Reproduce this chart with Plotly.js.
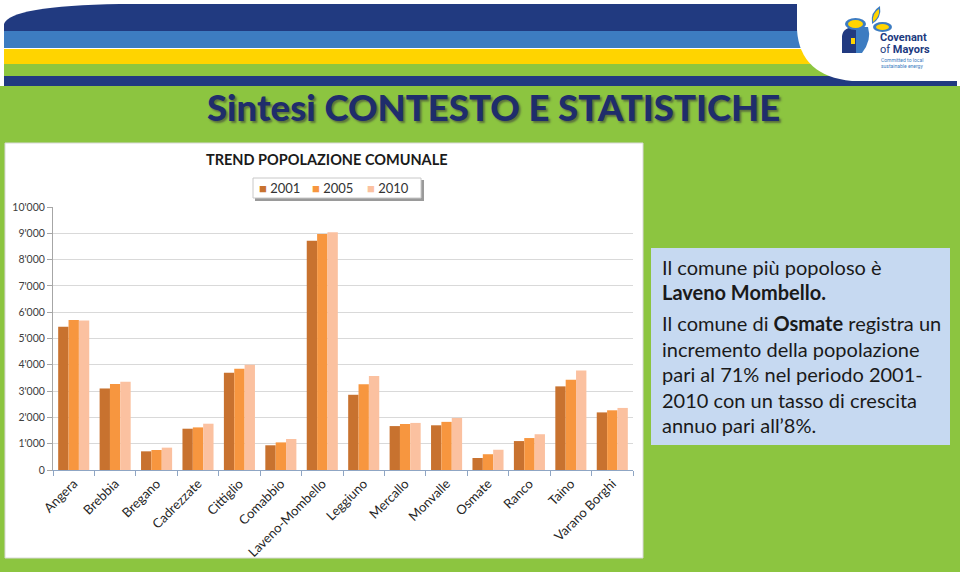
<!DOCTYPE html>
<html><head><meta charset="utf-8">
<script src="https://cdn.plot.ly/plotly-3.0.1.min.js"></script>
<style>html,body{margin:0;padding:0;background:#8CC540;}#chart{width:960px;height:572px;}</style>
</head><body><div id="chart"></div>
<script>
const comuni = ["Angera","Brebbia","Bregano","Cadrezzate","Cittiglio","Comabbio","Laveno-Mombello","Leggiuno","Mercallo","Monvalle","Osmate","Ranco","Taino","Varano Borghi"];
const pop2001 = [5450,3100,710,1570,3700,940,8720,2860,1670,1700,456,1100,3180,2190];
const pop2005 = [5700,3270,760,1620,3850,1050,8970,3260,1750,1830,600,1215,3430,2270];
const pop2010 = [5680,3360,850,1760,4000,1180,9040,3570,1790,1980,770,1360,3780,2360];
const seriesNames = ["2001","2005","2010"];
const chartTitle = "TREND POPOLAZIONE COMUNALE";
const slideTitle = "Sintesi CONTESTO E STATISTICHE";
const boxLines = [
  {t:"Il comune più popoloso è", y:267},
  {t:"<b>Laveno Mombello.</b>", y:292},
  {t:"Il comune di <b>Osmate</b> registra un", y:323},
  {t:"incremento della popolazione", y:349},
  {t:"pari al 71% nel periodo 2001-", y:374},
  {t:"2010 con un tasso di crescita", y:400},
  {t:"annuo pari all’8%.", y:425}
];

const L=53,R=633,T=207,B=470;
const X=p=>(p-L)/(R-L), Y=p=>(B-p)/(B-T);
function rect(x0,y0,x1,y1,fill,line){return {type:'rect',xref:'paper',yref:'paper',x0:X(x0),x1:X(x1),y0:Y(y0),y1:Y(y1),fillcolor:fill,line:line||{width:0},layer:'below'};}
function path(pts,fill){let d='';pts.forEach((p,i)=>{if(p[0]==='Q'){d+=' Q '+X(p[1])+','+Y(p[2])+' '+X(p[3])+','+Y(p[4]);}else{d+=(i?' L ':'M ')+X(p[0])+','+Y(p[1]);}});d+=' Z';return {type:'path',xref:'paper',yref:'paper',path:d,fillcolor:fill,line:{width:0},layer:'below'};}
function circ(x0,y0,x1,y1,fill){return {type:'circle',xref:'paper',yref:'paper',x0:X(x0),x1:X(x1),y0:Y(y0),y1:Y(y1),fillcolor:fill,line:{width:0},layer:'below'};}

const navy='#213A80', lblue='#3D7CC1', yellow='#FFD400', green='#8DC63F';
const shapes=[
  rect(0,0,960,86,'#FFFFFF'),
  path([[4,31],[4,24],['Q',10,6,120,4],[957,4],[957,31]],navy),
  rect(4,31,957,48,lblue),
  rect(4,49,957,64,yellow),
  rect(4,64,957,76,green),
  rect(4,76,957,86,navy),
  path([[797,0],[797,30],['Q',800,76,852,81],[957,81],[957,0]],'#FFFFFF'),
  // logo icon
  path([[842,53],[842,36],['Q',843,27,856,27],[856,53]],navy),
  path([[856,53],[856,27],[868,27],['Q',872,40,862,53]],lblue),
  path([[851,44],[851,38],[855,38],[855,44]],yellow),
  circ(845,18,866,30,lblue),
  circ(848,20,863,28,yellow),
  path([[872,24],['Q',870,12,880,6],['Q',882,18,872,24]],lblue),
  path([[873,22],['Q',872,13,879,9],['Q',880,17,873,22]],yellow),
  circ(873,22,892,32,lblue),
  circ(876,24,889,30,yellow),
  // chart panel
  rect(5,143,643,558,'#FFFFFF',{color:'#D8D8D8',width:1}),
  // text box
  rect(651,248,950,445,'#C6D9F1'),
  // legend box with shadow
  rect(255,180,424,201,'#9A9A9A'),
  rect(253,178,421,198,'#FFFFFF',{color:'#C8C8C8',width:1})
];

const ff='Lato, "Open Sans", sans-serif';
const annotations=[
  {text:slideTitle,x:X(493),y:Y(107),xref:'paper',yref:'paper',showarrow:false,xanchor:'center',yanchor:'middle',
   font:{family:'Lato, sans-serif',size:36.5,weight:900,color:'#1F2D6B',shadow:'2px 2px 2px rgba(60,60,60,0.6)'}},
  {text:chartTitle,x:X(327),y:Y(159),xref:'paper',yref:'paper',showarrow:false,xanchor:'center',yanchor:'middle',
   font:{family:ff,size:14.5,weight:700,color:'#1A1A1A'}},
  {text:'<b>Covenant</b>',x:X(878),y:Y(37),xref:'paper',yref:'paper',showarrow:false,xanchor:'left',yanchor:'middle',font:{family:'Roboto, sans-serif',size:11,color:navy}},
  {text:'of <b>Mayors</b>',x:X(878),y:Y(50),xref:'paper',yref:'paper',showarrow:false,xanchor:'left',yanchor:'middle',font:{family:'Roboto, sans-serif',size:11,color:navy}},
  {text:'Committed to local',x:X(879),y:Y(60),xref:'paper',yref:'paper',showarrow:false,xanchor:'left',yanchor:'middle',font:{family:'Roboto, sans-serif',size:5,color:lblue}},
  {text:'sustainable energy',x:X(879),y:Y(66),xref:'paper',yref:'paper',showarrow:false,xanchor:'left',yanchor:'middle',font:{family:'Roboto, sans-serif',size:5,color:lblue}}
];
boxLines.forEach(l=>annotations.push({text:l.t,x:X(660),y:Y(l.y),xref:'paper',yref:'paper',showarrow:false,xanchor:'left',yanchor:'middle',
  font:{family:ff,size:20,color:'#1A1A1A'}}));

const colors=['#C8722F','#F7963F','#FBC1A0'];
// legend entries (square marker + series name), placed inside legend box
const legendX=[257,310,365];
seriesNames.forEach((n,i)=>{
  annotations.push({text:'<span style="color:'+colors[i]+'">■</span> '+n,x:X(legendX[i]),y:Y(187.5),xref:'paper',yref:'paper',showarrow:false,xanchor:'left',yanchor:'middle',
    font:{family:ff,size:13,color:'#333333'}});
});
const vals=[pop2001,pop2005,pop2010];
const data=seriesNames.map((n,i)=>({type:'bar',name:n,x:comuni,y:vals[i],marker:{color:colors[i],line:{width:0}},hoverinfo:'skip'}));

const layout={
  width:960,height:572,
  margin:{l:L,r:960-R,t:T,b:572-B,pad:0},
  paper_bgcolor:'#8CC540',plot_bgcolor:'rgba(0,0,0,0)',
  separators:".'",
  barmode:'group',bargap:0.25,bargroupgap:0,
  showlegend:false,
  xaxis:{type:'category',showgrid:false,showline:true,linecolor:'#8FA6C4',linewidth:1,ticks:'outside',tickson:'boundaries',ticklen:5,tickcolor:'#8FA6C4',
    tickangle:-45,tickfont:{family:ff,size:13,color:'#262626'},fixedrange:true},
  yaxis:{range:[0,10000],dtick:1000,tickformat:',d',showgrid:true,gridcolor:'#D9D9D9',gridwidth:1,showline:true,linecolor:'#A6A6A6',
    ticks:'outside',ticklen:5,tickcolor:'#A6A6A6',tickfont:{family:ff,size:10.5,color:'#404040'},zeroline:false,fixedrange:true},
  shapes:shapes,annotations:annotations
};
Plotly.newPlot('chart',data,layout,{displayModeBar:false,staticPlot:true});
</script></body></html>
